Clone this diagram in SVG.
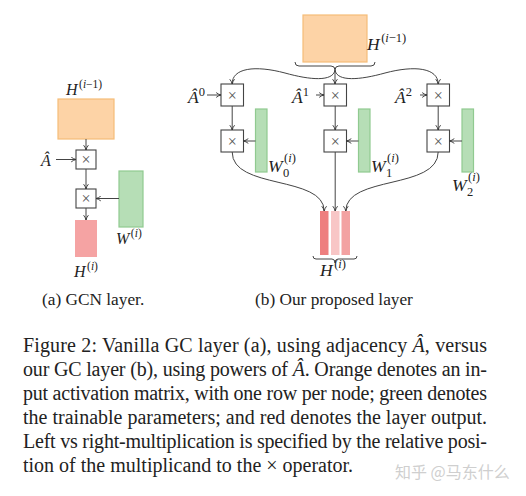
<svg xmlns="http://www.w3.org/2000/svg" width="526" height="496" viewBox="0 0 526 496">
<defs>
<marker id="ah" viewBox="0 0 6 6" refX="5.6" refY="3" markerWidth="6" markerHeight="6" orient="auto" markerUnits="userSpaceOnUse">
<path d="M0.8,0.6 Q3,2.4 5.6,3 Q3,3.6 0.8,5.4" fill="none" stroke="#333" stroke-width="0.9"/>
</marker>
<style>
.bg{fill:#ffffff}
.orange{fill:#fdd3a6;stroke:#f6bd78;stroke-width:1.2}
.green{fill:#b6deb6;stroke:#90ca90;stroke-width:1.2}
.red{fill:#f5a3a3}
.r1{fill:#ee7f7f}
.r2{fill:#f8c6c6}
.r3{fill:#f3a2a2}
.box{fill:#ffffff;stroke:#444;stroke-width:1.1}
.x{font-family:"Liberation Serif",serif;font-size:16px;fill:#555;text-anchor:middle;dominant-baseline:central}
.c{fill:none;stroke:#444;stroke-width:1}
.a{marker-end:url(#ah)}
.m{font-family:"Liberation Serif",serif;fill:#222}
.i{font-style:italic}
.cap{font-family:"Liberation Serif",serif;font-size:17.3px;fill:#222}
.fig{font-family:"Liberation Serif",serif;font-size:20px;fill:#222}
.wm{font-family:"Noto Sans CJK SC","Liberation Sans",sans-serif;font-size:16px;fill:#cfcfcf}
</style>
</defs>
<rect class="bg" x="0" y="0" width="526" height="496"/>

<!-- (a) GCN layer -->
<g id="a-Hprev">
<rect class="orange" x="58" y="99" width="56" height="40"/>
<text class="m" x="66" y="95" font-size="16"><tspan class="i">H</tspan><tspan dx="1.5" dy="-7" font-size="11.5">(<tspan class="i">i</tspan>−1)</tspan></text>
</g>
<g id="a-mul1">
<rect class="box" x="76" y="150" width="20" height="19"/>
<text class="x" x="86" y="159.5">×</text>
</g>
<g id="a-A">
<text class="m i" x="41" y="166" font-size="16">Â</text>
</g>
<g id="a-mul2">
<rect class="box" x="76" y="189" width="20" height="19"/>
<text class="x" x="86" y="198.5">×</text>
</g>
<g id="a-W">
<rect class="green" x="119" y="171" width="24" height="56"/>
<text class="m" x="116" y="244" font-size="16"><tspan class="i">W</tspan><tspan dx="1.5" dy="-7" font-size="11.5">(<tspan class="i">i</tspan>)</tspan></text>
</g>
<g id="a-H">
<rect class="red" x="75" y="220" width="22" height="37"/>
<text class="m" x="74" y="277" font-size="16"><tspan class="i">H</tspan><tspan dx="1.5" dy="-7" font-size="11.5">(<tspan class="i">i</tspan>)</tspan></text>
</g>

<!-- (b) proposed layer -->
<g id="b-Hprev">
<rect class="orange" x="303" y="15" width="64" height="47"/>
<text class="m" x="367" y="50" font-size="17.5"><tspan class="i">H</tspan><tspan dx="1.5" dy="-8" font-size="12.5">(<tspan class="i">i</tspan>−1)</tspan></text>
</g>
<g id="b-A0">
<text class="m" x="188" y="103" font-size="17.5"><tspan class="i">Â</tspan><tspan dy="-7" font-size="12.5">0</tspan></text>
</g>
<g id="b-A1">
<text class="m" x="292" y="103" font-size="17.5"><tspan class="i">Â</tspan><tspan dy="-7" font-size="12.5">1</tspan></text>
</g>
<g id="b-A2">
<text class="m" x="395" y="103" font-size="17.5"><tspan class="i">Â</tspan><tspan dy="-7" font-size="12.5">2</tspan></text>
</g>
<g id="b-mul0a"><rect class="box" x="221" y="84" width="22.5" height="22"/><text class="x" x="232.2" y="95">×</text></g>
<g id="b-mul1a"><rect class="box" x="324" y="84" width="22.5" height="22"/><text class="x" x="335.2" y="95">×</text></g>
<g id="b-mul2a"><rect class="box" x="427" y="84" width="22.5" height="22"/><text class="x" x="438.2" y="95">×</text></g>
<g id="b-mul0b"><rect class="box" x="221" y="130" width="22.5" height="22"/><text class="x" x="232.2" y="141">×</text></g>
<g id="b-mul1b"><rect class="box" x="324" y="130" width="22.5" height="22"/><text class="x" x="335.2" y="141">×</text></g>
<g id="b-mul2b"><rect class="box" x="427" y="130" width="22.5" height="22"/><text class="x" x="438.2" y="141">×</text></g>
<g id="b-W0">
<rect class="green" x="255.5" y="109" width="11.5" height="63"/>
<text class="m i" x="268" y="172" font-size="17.5">W</text>
<text class="m" x="284" y="162" font-size="12.5">(<tspan class="i">i</tspan>)</text>
<text class="m" x="283" y="177" font-size="12.5">0</text>
</g>
<g id="b-W1">
<rect class="green" x="358.5" y="109" width="11.5" height="63"/>
<text class="m i" x="371" y="172" font-size="17.5">W</text>
<text class="m" x="387" y="162" font-size="12.5">(<tspan class="i">i</tspan>)</text>
<text class="m" x="386" y="177" font-size="12.5">1</text>
</g>
<g id="b-W2">
<rect class="green" x="462" y="109" width="11.5" height="63"/>
<text class="m i" x="452" y="191" font-size="17.5">W</text>
<text class="m" x="468" y="181" font-size="12.5">(<tspan class="i">i</tspan>)</text>
<text class="m" x="467" y="196" font-size="12.5">2</text>
</g>
<g id="b-H">
<rect class="r1" x="320" y="211" width="8.5" height="44"/>
<rect class="r2" x="331" y="211" width="8.5" height="44"/>
<rect class="r3" x="341.5" y="211" width="8.5" height="44"/>
<path class="c" d="M313,256 q0,3 3,3 h16 q3,0 3,4 q0,-4 3,-4 h16 q3,0 3,-3"/>
<text class="m" x="320" y="276" font-size="17.5"><tspan class="i">H</tspan><tspan dx="1.5" dy="-8" font-size="12.5">(<tspan class="i">i</tspan>)</tspan></text>
</g>

<g id="connectors">
<path class="c a" d="M86,139 V150"/>
<path class="c a" d="M56,159.5 H76"/>
<path class="c a" d="M86,169 V189"/>
<path class="c a" d="M119,198.5 H96"/>
<path class="c a" d="M86,208 V220"/>

<path class="c" d="M295,62 q0,4 4,4 h32 q4,0 4,4 q0,-4 4,-4 h32 q4,0 4,-4"/>
<path class="c a" d="M335,70 V84"/>
<path class="c a" d="M335,70 C333,82 310,80 285,73 C255,65 232,68 232.2,84"/>
<path class="c a" d="M335,70 C337,82 360,80 385,73 C415,65 438,68 438.2,84"/>
<path class="c a" d="M207,95 H221"/>
<path class="c a" d="M316,95 H324"/>
<path class="c a" d="M420,95 H427"/>
<path class="c a" d="M232.2,106 V130"/>
<path class="c a" d="M335.2,106 V130"/>
<path class="c a" d="M438.2,106 V130"/>
<path class="c a" d="M255.5,141 H243.5"/>
<path class="c a" d="M358.5,141 H346.5"/>
<path class="c a" d="M462,141 H449.5"/>
<path class="c a" d="M232.2,152 C232,190 324,175 324.2,211"/>
<path class="c a" d="M335.2,152 V211"/>
<path class="c a" d="M438.2,152 C438,190 346,175 345.8,211"/>
</g>

<g id="captions">
<text class="cap" x="42" y="305">(a) GCN layer.</text>
<text class="cap" x="255" y="305">(b) Our proposed layer</text>
<text class="fig" x="23" y="352" textLength="464" lengthAdjust="spacing">Figure 2: Vanilla GC layer (a), using adjacency <tspan class="i">Â</tspan>, versus</text>
<text class="fig" x="23" y="376" textLength="464" lengthAdjust="spacing">our GC layer (b), using powers of <tspan class="i">Â</tspan>. Orange denotes an in-</text>
<text class="fig" x="23" y="400" textLength="464" lengthAdjust="spacing">put activation matrix, with one row per node; green denotes</text>
<text class="fig" x="23" y="424" textLength="464" lengthAdjust="spacing">the trainable parameters; and red denotes the layer output.</text>
<text class="fig" x="23" y="448" textLength="464" lengthAdjust="spacing">Left vs right-multiplication is specified by the relative posi-</text>
<text class="fig" x="23" y="471.5">tion of the multiplicand to the × operator.</text>
<text class="wm" x="395" y="478">知乎 @马东什么</text>
</g>
</svg>
